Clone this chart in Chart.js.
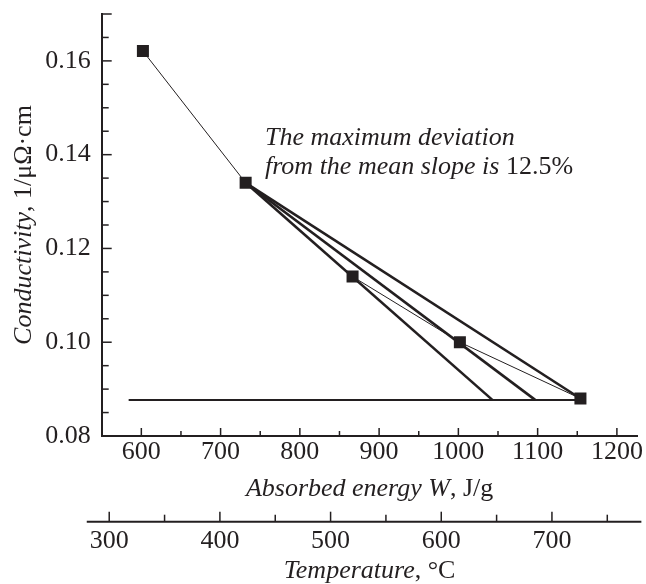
<!DOCTYPE html>
<html>
<head>
<meta charset="UTF-8">
<title>Conductivity vs absorbed energy</title>
<script src="https://cdn.jsdelivr.net/npm/chart.js@4.4.0/dist/chart.umd.min.js"></script>
<style>
*{margin:0;padding:0}
body{background:#fff}
#wrap{width:646px;height:584px}
</style>
</head>
<body>
<div id="wrap"><canvas id="c" width="646" height="584"></canvas></div>
<script>
// measured points
var energy = [602, 731.6, 866.5, 1001.9, 1154];
var conductivity = [0.1621, 0.134, 0.114, 0.100, 0.088];

// fan of slopes from the 2nd point down to the base level
var fanEndX = [1042.9, 1096.9, 1154];
var fanEndY = [0.0877, 0.0877, 0.088];
var baseX = [584, 1154];
var baseY = 0.0877;

// axes
var yLabels = [0.08, 0.10, 0.12, 0.14, 0.16];
var yMarks = [0.085, 0.09, 0.095, 0.10, 0.105, 0.11, 0.115, 0.12, 0.125, 0.13, 0.135, 0.14, 0.145, 0.15, 0.155, 0.16, 0.165, 0.17];
var yLong = [0.10, 0.12, 0.14, 0.16, 0.17];
var xLabels = [600, 700, 800, 900, 1000, 1100, 1200];
var xMinor = [650, 750, 850, 950, 1050, 1150];
var tLabels = [300, 400, 500, 600, 700];
var tMinor = [350, 450, 550, 650, 750];
var tLine = [279.7, 780.8];

var ink = '#231f20';
var serif = '"Liberation Serif", "Times New Roman", serif';
var fsize = 26;

function pts(xs, ys) {
	return xs.map(function (x, i) { return { x: x, y: ys[i] }; });
}

function richText(ctx, parts, x, y, align) {
	var w = 0;
	parts.forEach(function (p) { ctx.font = p[1]; w += ctx.measureText(p[0]).width; });
	var cx = align === 'center' ? x - w / 2 : x;
	parts.forEach(function (p) {
		ctx.font = p[1];
		ctx.fillText(p[0], cx, y);
		cx += ctx.measureText(p[0]).width;
	});
}

var it = 'italic ' + fsize + 'px ' + serif;
var rm = fsize + 'px ' + serif;

var decor = {
	id: 'decor',
	afterDraw: function (chart) {
		var ctx = chart.ctx, a = chart.chartArea;
		var sx = chart.scales.x, sy = chart.scales.y, st = chart.scales.t;
		ctx.save();
		ctx.strokeStyle = ink;
		ctx.fillStyle = ink;
		ctx.lineWidth = 1.5;
		function seg(x1, y1, x2, y2) {
			ctx.beginPath(); ctx.moveTo(x1, y1); ctx.lineTo(x2, y2); ctx.stroke();
		}
		// inward ticks
		yMarks.forEach(function (v) {
			var p = sy.getPixelForValue(v);
			seg(a.left, p, a.left + (yLong.indexOf(v) >= 0 ? 10 : 7), p);
		});
		xLabels.forEach(function (v) {
			var p = sx.getPixelForValue(v);
			seg(p, a.bottom, p, a.bottom - 8);
		});
		xMinor.forEach(function (v) {
			var p = sx.getPixelForValue(v);
			seg(p, a.bottom, p, a.bottom - 5);
		});
		// temperature axis
		var ty = st.top;
		ctx.lineWidth = 2;
		seg(st.getPixelForValue(tLine[0]), ty, st.getPixelForValue(tLine[1]), ty);
		ctx.lineWidth = 1.5;
		tLabels.forEach(function (v) {
			var p = st.getPixelForValue(v);
			seg(p, ty, p, ty - 10);
		});
		tMinor.forEach(function (v) {
			var p = st.getPixelForValue(v);
			seg(p, ty, p, ty - 7);
		});

		// titles
		ctx.textBaseline = 'alphabetic';
		ctx.textAlign = 'left';
		var cx = (a.left + a.right) / 2;
		richText(ctx, [['Absorbed energy ', it], ['W', it], [', J/g', rm]], cx, 496, 'center');
		richText(ctx, [['Temperature', it], [', \u00b0C', rm]], cx, 578, 'center');
		ctx.save();
		ctx.translate(31, (a.top + a.bottom) / 2);
		ctx.rotate(-Math.PI / 2);
		richText(ctx, [['Conductivity', it], [', 1/\u03bc\u03a9\u00b7cm', rm]], 0, 0, 'center');
		ctx.restore();

		// note
		var nx = sx.getPixelForValue(756);
		richText(ctx, [['The maximum deviation', it]], nx, 145, 'left');
		richText(ctx, [['from the mean slope is ', it], ['12.5%', rm]], nx, 174, 'left');
		ctx.restore();
	}
};

var fan = fanEndX.map(function (x, i) {
	return {
		data: [{ x: energy[1], y: conductivity[1] }, { x: x, y: fanEndY[i] }],
		showLine: true,
		borderColor: ink,
		borderWidth: 2.6,
		pointRadius: 0
	};
});

var datasets = [{
	data: pts(energy, conductivity),
	showLine: true,
	borderColor: ink,
	borderWidth: 1,
	backgroundColor: ink,
	pointStyle: 'rect',
	pointRadius: 8.5,
	pointBorderWidth: 0
}].concat(fan).concat([{
	data: pts(baseX, [baseY, baseY]),
	showLine: true,
	borderColor: ink,
	borderWidth: 2,
	pointRadius: 0
}]);

var tickFont = { family: serif, size: fsize };

function noPad(s) {
	s.paddingTop = 0; s.paddingBottom = 0; s.paddingLeft = 0; s.paddingRight = 0;
}

new Chart(document.getElementById('c'), {
	type: 'scatter',
	data: { datasets: datasets },
	plugins: [decor],
	options: {
		responsive: false,
		animation: false,
		devicePixelRatio: 1,
		layout: { padding: { top: 14, right: 6, left: 0, bottom: 0 } },
		plugins: { legend: { display: false }, tooltip: { enabled: false } },
		scales: {
			x: {
				type: 'linear', position: 'bottom', min: 550, max: 1226,
				afterBuildTicks: function (s) { s.ticks = xLabels.map(function (v) { return { value: v }; }); },
				afterFit: function (s) { s.height = 85.7; noPad(s); },
				grid: { display: false, drawTicks: false },
				border: { display: true, color: ink, width: 2 },
				ticks: {
					font: tickFont, color: ink, padding: 1, maxRotation: 0, autoSkip: false,
					callback: function (v) { return String(v); }
				}
			},
			t: {
				type: 'linear', position: 'bottom', min: 293.2, max: 777.3,
				afterBuildTicks: function (s) { s.ticks = tLabels.map(function (v) { return { value: v }; }); },
				afterFit: function (s) { s.height = 62.3; noPad(s); },
				grid: { display: false, drawTicks: false },
				border: { display: false },
				ticks: {
					font: tickFont, color: ink, padding: 4, maxRotation: 0, autoSkip: false,
					callback: function (v) { return String(v); }
				}
			},
			y: {
				type: 'linear', position: 'left', min: 0.08, max: 0.17,
				afterBuildTicks: function (s) { s.ticks = yLabels.map(function (v) { return { value: v }; }); },
				afterFit: function (s) { s.width = 101.7; noPad(s); },
				grid: { display: false, drawTicks: false },
				border: { display: true, color: ink, width: 2 },
				ticks: {
					font: tickFont, color: ink, padding: 11,
					callback: function (v) { return v.toFixed(2); }
				}
			}
		}
	}
});
</script>
</body>
</html>
